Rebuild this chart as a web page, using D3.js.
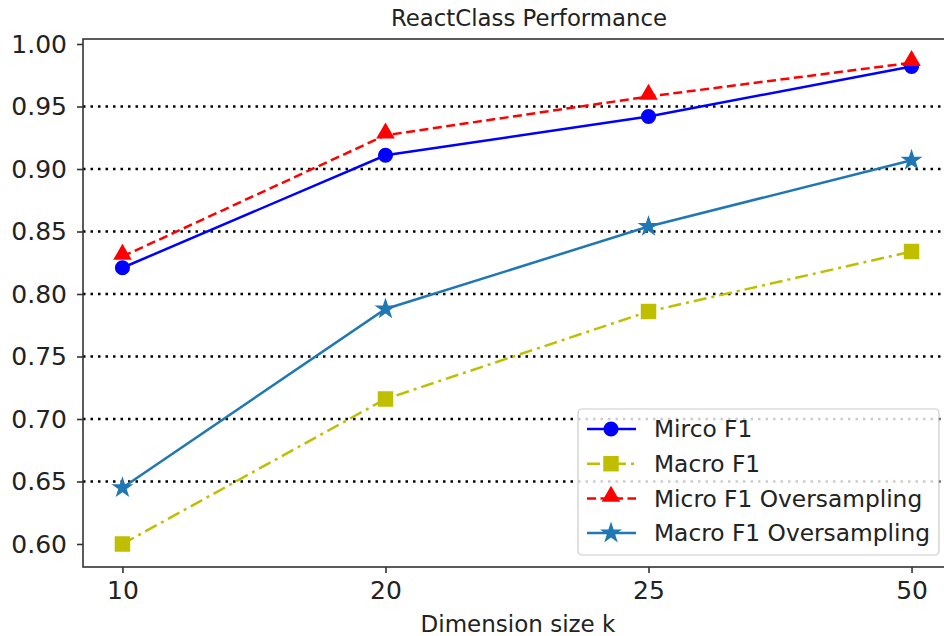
<!DOCTYPE html>
<html>
<head>
<meta charset="utf-8">
<script src="https://cdn.jsdelivr.net/npm/d3@7"></script>
<style>
  body { margin: 0; background: #fff; }
  svg { display: block; font-family: "DejaVu Sans", sans-serif; }
</style>
</head>
<body>
<div id="chart"></div>
<script>
// data
var dims = ["10", "20", "25", "50"];
var microF1 = [0.821, 0.911, 0.942, 0.982];
var macroF1 = [0.600, 0.716, 0.786, 0.834];
var microF1Over = [0.830, 0.927, 0.958, 0.985];
var macroF1Over = [0.645, 0.788, 0.854, 0.907];
var yTicks = [0.60, 0.65, 0.70, 0.75, 0.80, 0.85, 0.90, 0.95, 1.00];
var gridTicks = [0.65, 0.70, 0.75, 0.80, 0.85, 0.90, 0.95];

var width = 944, height = 636;
// plot box (right edge runs past the picture, as in the reference)
var plotLeft = 83, plotRight = 951, plotTop = 39, plotBottom = 567;

var svg = d3.select("#chart").append("svg")
    .attr("width", width)
    .attr("height", height);

// x is categorical, points spaced evenly with matplotlib-like margins
var x = d3.scalePoint()
    .domain(dims)
    .range([plotLeft, plotRight])
    .padding(0.15);

var y = d3.scaleLinear()
    .domain([0.5816, 1.004])
    .range([plotBottom, plotTop]);

// grid
svg.selectAll(".grid")
    .data(gridTicks)
    .enter().append("line")
    .attr("class", "grid")
    .attr("x1", plotLeft).attr("x2", plotRight)
    .attr("y1", function(d) { return y(d); })
    .attr("y2", function(d) { return y(d); })
    .attr("stroke", "#000")
    .attr("stroke-width", 2.4)
    .attr("stroke-dasharray", "2.5,5");

// series
var series = [
  { name: "Mirco F1", values: microF1, color: "#0000ff", dash: null, marker: "circle" },
  { name: "Macro F1", values: macroF1, color: "#bfbf00", dash: "13,5,3,5", marker: "square" },
  { name: "Micro F1 Oversampling", values: microF1Over, color: "#ff0000", dash: "9,4.5", marker: "triangle" },
  { name: "Macro F1 Oversampling", values: macroF1Over, color: "#1f77b4", dash: null, marker: "star" }
];

var symbols = {
  circle: d3.symbol().type(d3.symbolCircle).size(180),
  square: d3.symbol().type(d3.symbolSquare).size(240),
  triangle: d3.symbol().type(d3.symbolTriangle).size(150),
  star: d3.symbol().type(d3.symbolStar).size(150)
};

var line = d3.line()
    .x(function(d, i) { return x(dims[i]); })
    .y(function(d) { return y(d); });

series.forEach(function(s) {
  var g = svg.append("g");
  g.append("path")
    .attr("d", line(s.values))
    .attr("fill", "none")
    .attr("stroke", s.color)
    .attr("stroke-width", 2.5)
    .attr("stroke-dasharray", s.dash);
  g.selectAll("path.mk")
    .data(s.values)
    .enter().append("path")
    .attr("class", "mk")
    .attr("transform", function(d, i) {
      var dy = s.marker === "triangle" ? -2 : 0;
      return "translate(" + x(dims[i]) + "," + (y(d) + dy) + ")";
    })
    .attr("d", symbols[s.marker])
    .attr("fill", s.color);
});

// frame
svg.append("rect")
    .attr("x", plotLeft).attr("y", plotTop)
    .attr("width", plotRight - plotLeft).attr("height", plotBottom - plotTop)
    .attr("fill", "none")
    .attr("stroke", "#333")
    .attr("stroke-width", 1.6);

// y axis
var yAxis = svg.append("g")
    .attr("transform", "translate(" + plotLeft + ",0)")
    .call(d3.axisLeft(y).tickValues(yTicks).tickFormat(d3.format(".2f")).tickSize(6).tickPadding(10));
yAxis.select(".domain").remove();
yAxis.selectAll("line").attr("stroke", "#333").attr("stroke-width", 1.6);
yAxis.selectAll("text").attr("font-size", 25).attr("fill", "#222").attr("font-family", "DejaVu Sans");

// x axis
var xAxis = svg.append("g")
    .attr("transform", "translate(0," + plotBottom + ")")
    .call(d3.axisBottom(x).tickSize(6).tickPadding(8));
xAxis.select(".domain").remove();
xAxis.selectAll("line").attr("stroke", "#333").attr("stroke-width", 1.6);
xAxis.selectAll("text").attr("font-size", 25).attr("fill", "#222").attr("font-family", "DejaVu Sans");

// title and label
svg.append("text")
    .attr("x", 529).attr("y", 26)
    .attr("text-anchor", "middle")
    .attr("font-size", 22.8)
    .attr("fill", "#222")
    .text("ReactClass Performance");

svg.append("text")
    .attr("x", 518).attr("y", 632)
    .attr("text-anchor", "middle")
    .attr("font-size", 23)
    .attr("fill", "#222")
    .text("Dimension size k");

// legend
var legend = svg.append("g");
legend.append("rect")
    .attr("x", 578).attr("y", 409)
    .attr("width", 361).attr("height", 146)
    .attr("rx", 4)
    .attr("fill", "#fff").attr("fill-opacity", 0.8)
    .attr("stroke", "#ccc").attr("stroke-width", 1.2);

series.forEach(function(s, i) {
  var cy = 429 + i * 34.7;
  legend.append("line")
    .attr("x1", 587).attr("x2", 636)
    .attr("y1", cy).attr("y2", cy)
    .attr("stroke", s.color)
    .attr("stroke-width", 2.5)
    .attr("stroke-dasharray", s.dash);
  legend.append("path")
    .attr("transform", "translate(611," + (cy + (s.marker === "triangle" ? -2 : 0)) + ")")
    .attr("d", symbols[s.marker])
    .attr("fill", s.color);
  legend.append("text")
    .attr("x", 654).attr("y", cy)
    .attr("dy", "0.35em")
    .attr("font-size", 23.3)
    .attr("fill", "#222")
    .text(s.name);
});
</script>
</body>
</html>
